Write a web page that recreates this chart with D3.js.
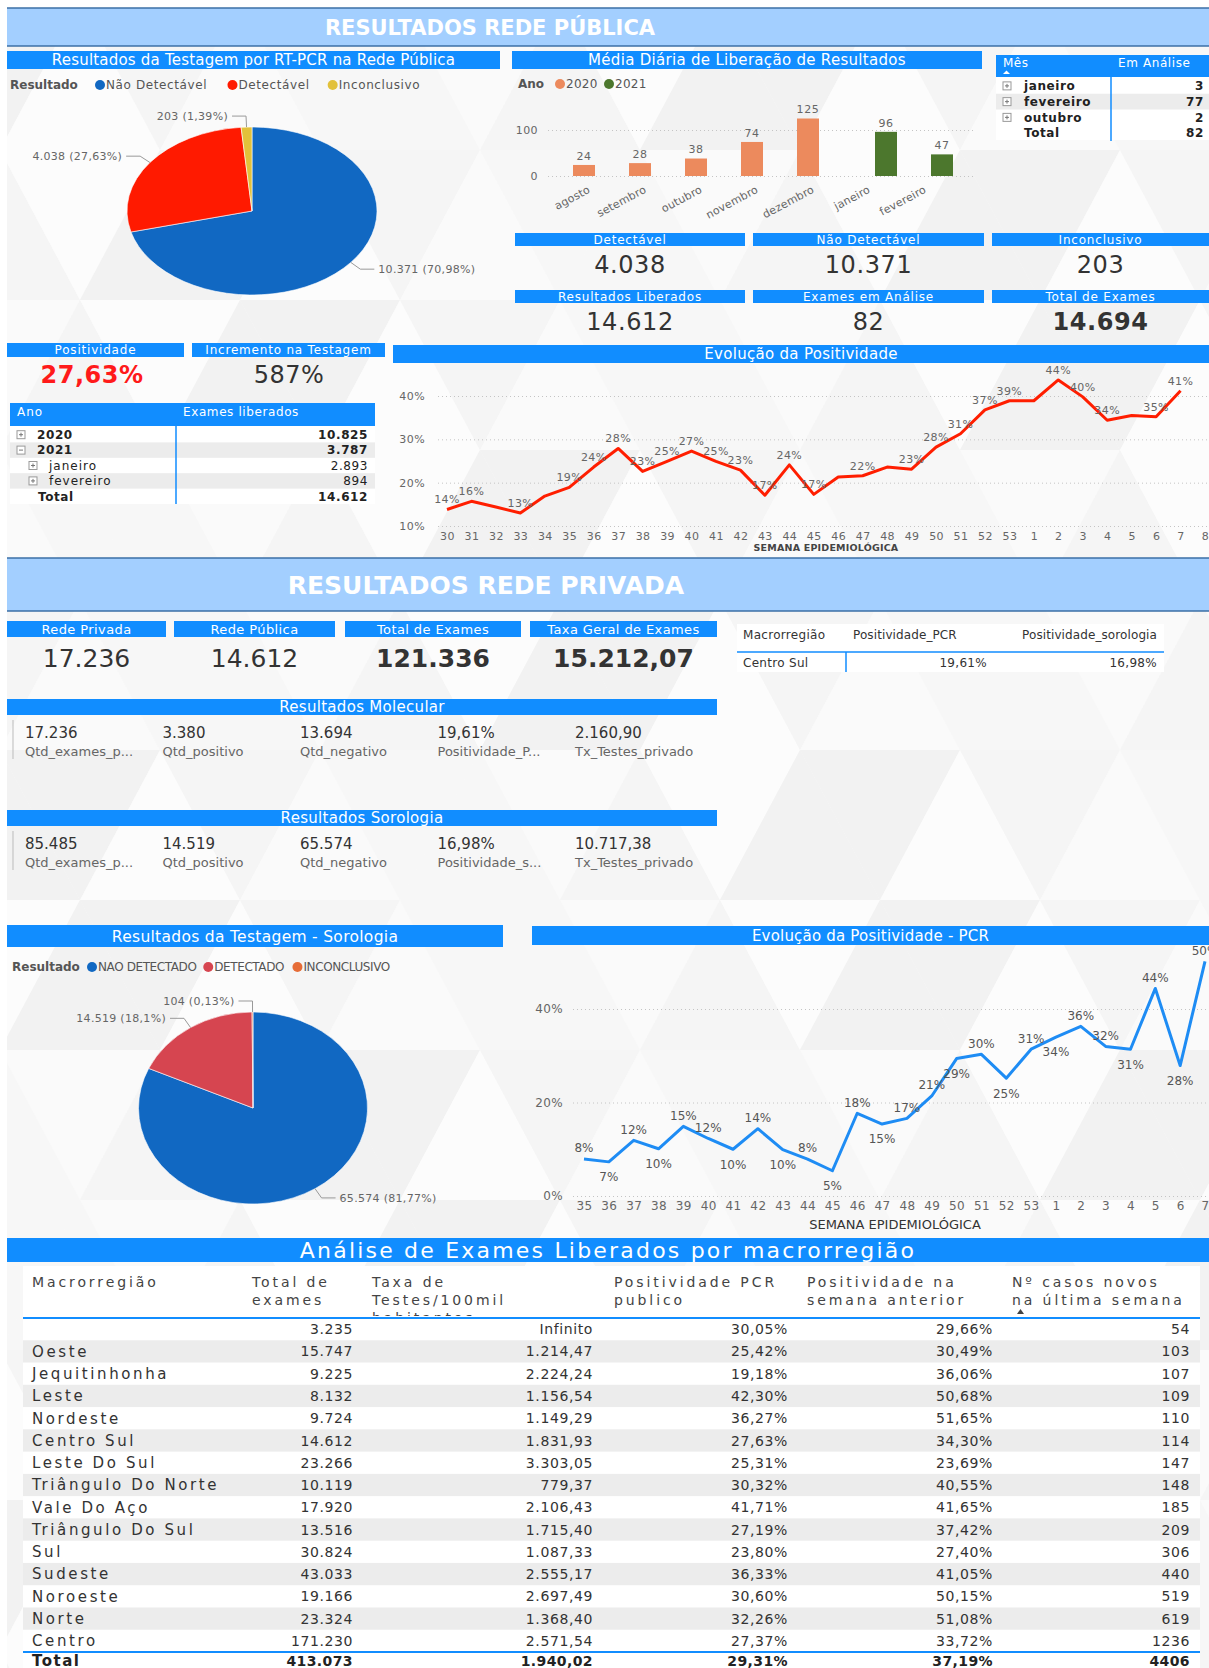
<!DOCTYPE html>
<html lang="pt-BR">
<head>
<meta charset="UTF-8" />
<title>Resultados Rede Pública e Privada</title>
<script src="https://d3js.org/d3.v7.min.js"></script>
<style>
  body { margin: 0; background: #fff; }
  svg { display: block; font-family: "DejaVu Sans", Verdana, sans-serif; }
</style>
</head>
<body>
<svg id="painel" width="1209" height="1668"></svg>
<script>
// ---------------- dados ----------------
const pcrResultados = ["Não Detectável", "Detectável", "Inconclusivo"];
const pcrQtd = [10371, 4038, 203];

const meses = ["agosto", "setembro", "outubro", "novembro", "dezembro", "janeiro", "fevereiro"];
const anoDoMes = ["2020", "2020", "2020", "2020", "2020", "2021", "2021"];
const anos = ["2020", "2021"];
const mediaDiaria = [24, 28, 38, 74, 125, 96, 47];

const analiseMeses = ["janeiro", "fevereiro", "outubro"];
const analiseQtd = [3, 77, 2];

const kpiPublicaRotulos = ["Detectável", "Não Detectável", "Inconclusivo",
  "Resultados Liberados", "Exames em Análise", "Total de Exames"];
const kpiPublicaValores = [4038, 10371, 203, 14612, 82, 14694];

const positividadeGeral = 27.63;
const incrementoTestagem = 587;

const liberadosAnos = ["2020", "2021"];
const liberadosAnoQtd = [10825, 3787];
const liberadosMeses2021 = ["janeiro", "fevereiro"];
const liberadosMesQtd = [2893, 894];

const semanas1 = ["30", "31", "32", "33", "34", "35", "36", "37", "38", "39", "40", "41",
  "42", "43", "44", "45", "46", "47", "48", "49", "50", "51", "52", "53",
  "1", "2", "3", "4", "5", "6", "7", "8"];
const positividade1 = [13.8, 15.7, 14.4, 13.0, 16.9, 18.9, 23.6, 27.9, 22.6, 24.9, 27.3, 24.9,
  22.9, 17.1, 24.1, 17.3, 21.3, 21.6, 23.6, 23.1, 28.2, 31.3, 36.8, 38.9,
  38.9, 43.7, 39.8, 34.4, 35.5, 35.2, 41.2];
const semanasSemRotulo1 = ["32", "34", "46", "48", "1", "5"];

const kpiPrivadaRotulos = ["Rede Privada", "Rede Pública", "Total de Exames", "Taxa Geral de Exames"];
const kpiPrivadaValores = [17236, 14612, 121336, 15212.07];

const posMacro = ["Centro Sul"];
const posMacroPCR = [19.61];
const posMacroSorologia = [16.98];

const molecularRotulos = ["Qtd_exames_p...", "Qtd_positivo", "Qtd_negativo", "Positividade_P...", "Tx_Testes_privado"];
const molecularValores = [17236, 3380, 13694, 19.61, 2160.90];
const sorologiaRotulos = ["Qtd_exames_p...", "Qtd_positivo", "Qtd_negativo", "Positividade_s...", "Tx_Testes_privado"];
const sorologiaValores = [85485, 14519, 65574, 16.98, 10717.38];

const soroResultados = ["NAO DETECTADO", "DETECTADO", "INCONCLUSIVO"];
const soroQtd = [65574, 14519, 104];

const semanas2 = ["35", "36", "37", "38", "39", "40", "41", "42", "43", "44", "45", "46", "47",
  "48", "49", "50", "51", "52", "53", "1", "2", "3", "4", "5", "6", "7"];
const positividadePCR = [7.9, 7.3, 11.9, 10.1, 14.9, 12.3, 10.0, 14.4, 9.9, 7.9, 5.4, 17.7, 15.4,
  16.6, 21.4, 29.4, 30.3, 25.2, 31.4, 34.0, 36.3, 32.0, 31.4, 44.4, 27.9, 50.2];
const semanasRotuloAbaixo2 = ["36", "38", "41", "43", "45", "47", "50", "52", "1", "4", "6"];

const macroNomes = ["", "Oeste", "Jequitinhonha", "Leste", "Nordeste", "Centro Sul", "Leste Do Sul",
  "Triângulo Do Norte", "Vale Do Aço", "Triângulo Do Sul", "Sul", "Sudeste", "Noroeste", "Norte", "Centro"];
const macroTotalExames = [3235, 15747, 9225, 8132, 9724, 14612, 23266, 10119, 17920, 13516, 30824, 43033, 19166, 23324, 171230];
const macroTaxa = [Infinity, 1214.47, 2224.24, 1156.54, 1149.29, 1831.93, 3303.05, 779.37, 2106.43, 1715.40, 1087.33, 2555.17, 2697.49, 1368.40, 2571.54];
const macroPositividade = [30.05, 25.42, 19.18, 42.30, 36.27, 27.63, 25.31, 30.32, 41.71, 27.19, 23.80, 36.33, 30.60, 32.26, 27.37];
const macroPosAnterior = [29.66, 30.49, 36.06, 50.68, 51.65, 34.30, 23.69, 40.55, 41.65, 37.42, 27.40, 41.05, 50.15, 51.08, 33.72];
const macroCasosNovos = [54, 103, 107, 109, 110, 114, 147, 148, 185, 209, 306, 440, 519, 619, 1236];
const macroTaxaTotal = 1940.02;
const macroPositividadeTotal = 29.31;
const macroPosAnteriorTotal = 37.19;

// ---------------- configuração ----------------
const W = 1209, H = 1668;
const AZUL = "#118dff";
const svg = d3.select("#painel");
const br = d3.formatLocale({ decimal: ",", thousands: ".", grouping: [3], currency: ["", ""] });
const fInt = br.format(",d");
const fDec = br.format(",.2f");
const fPct = v => fDec(v) + "%";
const fPctCurto = v => fDec(v).replace(/(,\d*?)0+$/, "$1").replace(/,$/, "") + "%";

function txt(parent, x, y, s, o = {}) {
  return parent.append("text")
    .attr("x", x).attr("y", y).attr("dy", o.dy || "0.36em")
    .attr("text-anchor", o.anchor || "start")
    .attr("font-size", o.size || 12)
    .attr("font-weight", o.weight || "normal")
    .attr("fill", o.fill || "#333")
    .style("letter-spacing", (o.ls || 0) + "px")
    .text(s);
}

function faixa(x, y, w, h, s, size, ls) {
  svg.append("rect").attr("x", x).attr("y", y).attr("width", w).attr("height", h).attr("fill", AZUL);
  txt(svg, x + w / 2, y + h / 2, s, { anchor: "middle", size: size, fill: "#fff", ls: ls || 0 });
}

// ---------------- fundo ----------------
const fundo = svg.append("g");
fundo.append("rect").attr("width", W).attr("height", H).attr("fill", "#f8f8f8");
const tons = ["#fcfcfc", "#f5f5f5", "#fafafa", "#f2f2f2", "#f7f7f7"];
for (let r = 0; r < 12; r++) {
  for (let c = -1; c < 10; c++) {
    const w = 160, h = 150, x = c * w + (r % 2) * w / 2, y = r * h;
    fundo.append("path").attr("d", `M${x},${y + h}L${x + w / 2},${y}L${x + w},${y + h}Z`)
      .attr("fill", tons[(r * 3 + c * 2 + 10) % 5]);
    fundo.append("path").attr("d", `M${x + w / 2},${y}L${x + w * 1.5},${y}L${x + w},${y + h}Z`)
      .attr("fill", tons[(r * 2 + c * 3 + 11) % 5]);
  }
}
fundo.append("rect").attr("width", W).attr("height", 8).attr("fill", "#fff");
fundo.append("rect").attr("width", 7).attr("height", H).attr("fill", "#fff");

function banner(y, h, s, size, cx) {
  svg.append("rect").attr("x", 7).attr("y", y).attr("width", W - 7).attr("height", h).attr("fill", "#a3cfff");
  svg.append("line").attr("x1", 7).attr("x2", W).attr("y1", y).attr("y2", y).attr("stroke", "#3b6fa6").attr("stroke-width", 1.5);
  svg.append("line").attr("x1", 7).attr("x2", W).attr("y1", y + h).attr("y2", y + h).attr("stroke", "#3b6fa6").attr("stroke-width", 1.5);
  txt(svg, cx, y + h / 2, s, { anchor: "middle", size: size, weight: "bold", fill: "#fff" });
}
banner(8, 38, "RESULTADOS REDE PÚBLICA", 21, 490);

// ---------------- pizza ----------------
function pizza(cfg) {
  const total = d3.sum(cfg.valores);
  const arcs = d3.pie().sort(null).value(d => d)(cfg.valores);
  const arco = d3.arc().innerRadius(0).outerRadius(cfg.ry);
  svg.append("g")
    .attr("transform", `translate(${cfg.cx},${cfg.cy}) scale(${cfg.rx / cfg.ry},1)`)
    .selectAll("path").data(arcs).join("path")
    .attr("d", arco).attr("fill", (d, i) => cfg.cores[i])
    .attr("stroke", "#fff").attr("stroke-width", 0.6).attr("vector-effect", "non-scaling-stroke");

  arcs.forEach((d, i) => {
    const a = (d.startAngle + d.endAngle) / 2;
    const sx = Math.sin(a), sy = -Math.cos(a);
    const p0 = [cfg.cx + cfg.rx * sx, cfg.cy + cfg.ry * sy];
    const p1 = [cfg.cx + (cfg.rx + 12) * sx, cfg.cy + (cfg.ry + 11) * sy];
    const dir = sx < 0 ? -1 : 1;
    const p2 = [p1[0] + dir * 14, p1[1]];
    svg.append("path").attr("d", `M${p0}L${p1}L${p2}`).attr("fill", "none")
      .attr("stroke", "#999").attr("stroke-width", 1);
    txt(svg, p2[0] + dir * 4, p2[1], `${fInt(d.data)} (${fPctCurto(d.data / total * 100)})`,
      { anchor: dir < 0 ? "end" : "start", size: 11, fill: "#666", ls: 0.3 });
  });

  // legenda
  txt(svg, cfg.legX, cfg.legY, "Resultado", { size: 12, weight: "bold", fill: "#555" });
  let lx = cfg.legX + cfg.legPrimeiro;
  cfg.nomes.forEach((n, i) => {
    svg.append("circle").attr("cx", lx + 5).attr("cy", cfg.legY).attr("r", 5).attr("fill", cfg.cores[i]);
    const t = txt(svg, lx + 11, cfg.legY, n, { size: 12, fill: "#555", ls: cfg.legLs });
    lx += 11 + t.node().getComputedTextLength() + 12 + cfg.legLs * n.length;
  });
}

faixa(7, 51, 493, 18, "Resultados da Testagem por RT-PCR na Rede Pública", 15, 0.2);
pizza({ cx: 252, cy: 211, rx: 125, ry: 84, valores: pcrQtd, nomes: pcrResultados,
  cores: ["#1168c2", "#ff1a00", "#e2c13a"], legX: 10, legY: 85, legPrimeiro: 85, legLs: 0.6 });

// ---------------- colunas média diária ----------------
faixa(512, 51, 470, 18, "Média Diária de Liberação de Resultados", 15, 0.3);
txt(svg, 518, 84, "Ano", { size: 12, weight: "bold", fill: "#555" });
[["2020", "#ec8a5d", 555], ["2021", "#4c772d", 604]].forEach(([a, c, x]) => {
  svg.append("circle").attr("cx", x + 5).attr("cy", 84).attr("r", 5).attr("fill", c);
  txt(svg, x + 11, 84, a, { size: 12, fill: "#555", ls: 0.3 });
});
const corAno = d3.scaleOrdinal().domain(anos).range(["#ec8a5d", "#4c772d"]);
const x0 = d3.scaleBand().domain(meses).range([567, 959]).paddingInner(12 / 56).paddingOuter(6 / 56);
const x1 = d3.scaleBand().domain(anos).range([0, x0.bandwidth()]);
const yBar = d3.scaleLinear().domain([0, 100]).range([176, 130]);

function estiloEixo(g, size, grade) {
  g.select(".domain").remove();
  g.selectAll(".tick line").attr("stroke", grade ? "#c4c4c4" : "none").attr("stroke-dasharray", "1,3");
  g.selectAll(".tick text").attr("fill", "#666").attr("font-size", size)
    .attr("font-family", "DejaVu Sans, Verdana, sans-serif").style("letter-spacing", "0.4px");
}
svg.append("g").attr("transform", "translate(548,0)")
  .call(d3.axisLeft(yBar).tickValues([0, 100]).tickSize(-(975 - 548)).tickPadding(10))
  .call(estiloEixo, 11, true);
svg.append("g").selectAll("rect").data(meses).join("rect")
  .attr("x", (m, i) => x0(m) + x1(anoDoMes[i]))
  .attr("y", (m, i) => yBar(mediaDiaria[i]))
  .attr("width", x1.bandwidth())
  .attr("height", (m, i) => yBar(0) - yBar(mediaDiaria[i]))
  .attr("fill", (m, i) => corAno(anoDoMes[i]));
meses.forEach((m, i) => {
  txt(svg, x0(m) + x1(anoDoMes[i]) + x1.bandwidth() / 2, yBar(mediaDiaria[i]) - 9, mediaDiaria[i],
    { anchor: "middle", size: 11, fill: "#666", ls: 0.6 });
  txt(svg, 0, 0, m, { anchor: "end", size: 11, fill: "#666", dy: "0", ls: 0.2 })
    .attr("transform", `translate(${x0(m) + x0.bandwidth() / 2 - 4},192) rotate(-28)`);
});

// ---------------- matriz em análise ----------------
svg.append("rect").attr("x", 996).attr("y", 55).attr("width", 213).attr("height", 22).attr("fill", AZUL);
txt(svg, 1003, 63, "Mês", { size: 12, fill: "#fff", ls: 0.5 });
svg.append("path").attr("d", "M1003,74L1006.5,70.5L1010,74Z").attr("fill", "#fff");
txt(svg, 1118, 63, "Em Análise", { size: 12, fill: "#fff", ls: 0.6 });
svg.append("rect").attr("x", 996).attr("y", 77).attr("width", 213).attr("height", 63).attr("fill", "#fff");
function iconeMais(x, y, menos) {
  svg.append("rect").attr("x", x).attr("y", y - 4).attr("width", 8).attr("height", 8)
    .attr("fill", "#fff").attr("stroke", "#999").attr("stroke-width", 1);
  svg.append("line").attr("x1", x + 2).attr("x2", x + 6).attr("y1", y).attr("y2", y).attr("stroke", "#777");
  if (!menos) svg.append("line").attr("x1", x + 4).attr("x2", x + 4).attr("y1", y - 2).attr("y2", y + 2).attr("stroke", "#777");
}
const linhaAn = d3.scaleBand().domain(d3.range(analiseMeses.length + 1)).range([78, 141]);
analiseMeses.concat(["Total"]).forEach((m, i) => {
  const cy = linhaAn(i) + linhaAn.bandwidth() / 2;
  if (i === 1) svg.append("rect").attr("x", 996).attr("y", linhaAn(i)).attr("width", 213).attr("height", linhaAn.bandwidth()).attr("fill", "#ececec");
  if (i < analiseMeses.length) iconeMais(1003, cy);
  txt(svg, 1024, cy, m, { size: 12, weight: "bold", fill: "#222", ls: 0.6 });
  const v = i < analiseMeses.length ? analiseQtd[i] : d3.sum(analiseQtd);
  txt(svg, 1204, cy, fInt(v), { size: 12, weight: "bold", fill: "#222", anchor: "end", ls: 0.6 });
});
svg.append("line").attr("x1", 1111).attr("x2", 1111).attr("y1", 77).attr("y2", 141).attr("stroke", AZUL).attr("stroke-width", 1.5);

// ---------------- cartões rede pública ----------------
const cartaoX = [[515, 230], [753, 231], [992, 217]];
kpiPublicaRotulos.forEach((r, i) => {
  const [x, w] = cartaoX[i % 3];
  const linha = Math.floor(i / 3);
  const hy = linha === 0 ? 233 : 290;
  faixa(x, hy, w, 13, r, 12, 0.8);
  txt(svg, x + w / 2, linha === 0 ? 264 : 321, fInt(kpiPublicaValores[i]),
    { anchor: "middle", size: 24, fill: "#333", weight: i === 5 ? "bold" : "normal", ls: 0.6 });
});

faixa(7, 343, 177, 14, "Positividade", 12, 0.8);
txt(svg, 92, 374, fPct(positividadeGeral), { anchor: "middle", size: 24, weight: "bold", fill: "#ff1a1a", ls: 0.5 });
faixa(192, 343, 193, 14, "Incremento na Testagem", 12, 0.8);
txt(svg, 289, 374, incrementoTestagem + "%", { anchor: "middle", size: 24, fill: "#333", ls: 0.5 });

// ---------------- matriz exames liberados ----------------
svg.append("rect").attr("x", 10).attr("y", 403).attr("width", 365).attr("height", 23).attr("fill", AZUL);
txt(svg, 17, 412, "Ano", { size: 12, fill: "#fff", ls: 1 });
txt(svg, 183, 412, "Exames liberados", { size: 12, fill: "#fff", ls: 0.6 });
svg.append("rect").attr("x", 10).attr("y", 426).attr("width", 365).attr("height", 78).attr("fill", "#fff");
const linhaLib = d3.scaleBand().domain(d3.range(5)).range([427, 504]);
const linhasLib = [
  { r: liberadosAnos[0], v: liberadosAnoQtd[0], nivel: 0, b: true },
  { r: liberadosAnos[1], v: liberadosAnoQtd[1], nivel: 0, b: true, aberto: true },
  { r: liberadosMeses2021[0], v: liberadosMesQtd[0], nivel: 1 },
  { r: liberadosMeses2021[1], v: liberadosMesQtd[1], nivel: 1 },
  { r: "Total", v: d3.sum(liberadosAnoQtd), nivel: 2, b: true }
];
linhasLib.forEach((l, i) => {
  const cy = linhaLib(i) + linhaLib.bandwidth() / 2;
  if (i % 2 === 1) svg.append("rect").attr("x", 10).attr("y", linhaLib(i)).attr("width", 365).attr("height", linhaLib.bandwidth()).attr("fill", "#ececec");
  if (l.nivel === 0) iconeMais(17, cy, l.aberto);
  if (l.nivel === 1) iconeMais(29, cy);
  const tx = l.nivel === 0 ? 37 : (l.nivel === 1 ? 49 : 38);
  txt(svg, tx, cy, l.r, { size: 12, weight: l.b ? "bold" : "normal", fill: "#222", ls: l.b ? 0.6 : 1 });
  txt(svg, 368, cy, fInt(l.v), { size: 12, weight: l.b ? "bold" : "normal", fill: "#222", anchor: "end", ls: 0.6 });
});
svg.append("line").attr("x1", 176).attr("x2", 176).attr("y1", 426).attr("y2", 504).attr("stroke", AZUL).attr("stroke-width", 1.5);

// ---------------- evolução positividade (pública) ----------------
faixa(393, 345, W - 393, 18, "Evolução da Positividade", 15, 0.3);
const xS1 = d3.scalePoint().domain(semanas1).range([447, 1205]);
const yS1 = d3.scaleLinear().domain([10, 40]).range([526, 396]);
svg.append("g").attr("transform", "translate(438,0)")
  .call(d3.axisLeft(yS1).tickValues([10, 20, 30, 40]).tickSize(-(W - 438)).tickPadding(13).tickFormat(d => d + "%"))
  .call(estiloEixo, 11, true);
svg.append("g").attr("transform", "translate(0,526)")
  .call(d3.axisBottom(xS1).tickSize(0).tickPadding(6))
  .call(estiloEixo, 11, false);
const linha1 = d3.line().x((d, i) => xS1(semanas1[i])).y(d => yS1(d));
svg.append("path").datum(positividade1).attr("d", linha1).attr("fill", "none")
  .attr("stroke", "#ff1e00").attr("stroke-width", 3).attr("stroke-linejoin", "round");
positividade1.forEach((v, i) => {
  if (semanasSemRotulo1.includes(semanas1[i])) return;
  txt(svg, xS1(semanas1[i]), yS1(v) - 10, Math.round(v) + "%", { anchor: "middle", size: 11, fill: "#666", ls: 0.4 });
});
txt(svg, 826, 548, "SEMANA EPIDEMIOLÓGICA", { anchor: "middle", size: 9.5, weight: "bold", fill: "#444", ls: 0.2 });

// ---------------- rede privada ----------------
banner(558, 53, "RESULTADOS REDE PRIVADA", 25, 486);

const cartaoPriv = [[7, 159], [174, 161], [345, 176], [530, 187]];
kpiPrivadaRotulos.forEach((r, i) => {
  const [x, w] = cartaoPriv[i];
  faixa(x, 621, w, 16, r, 13, 0.4);
  const v = kpiPrivadaValores[i];
  txt(svg, x + w / 2, 658, Number.isInteger(v) ? fInt(v) : fDec(v),
    { anchor: "middle", size: 25, fill: "#333", weight: i >= 2 ? "bold" : "normal" });
});

// tabela positividade por macrorregião
svg.append("rect").attr("x", 737).attr("y", 624).attr("width", 427).attr("height", 48).attr("fill", "#fff");
txt(svg, 743, 635, "Macrorregião", { size: 12, fill: "#333", ls: 0.3 });
txt(svg, 853, 635, "Positividade_PCR", { size: 12, fill: "#333", ls: 0.1 });
txt(svg, 1157, 635, "Positividade_sorologia", { size: 12, fill: "#333", anchor: "end", ls: 0.1 });
svg.append("line").attr("x1", 737).attr("x2", 1164).attr("y1", 652).attr("y2", 652).attr("stroke", AZUL).attr("stroke-width", 1.5);
posMacro.forEach((m, i) => {
  const cy = 663 + i * 18;
  txt(svg, 743, cy, m, { size: 12, fill: "#333", ls: 0.3 });
  txt(svg, 987, cy, fPct(posMacroPCR[i]), { size: 12, fill: "#333", anchor: "end", ls: 0.3 });
  txt(svg, 1157, cy, fPct(posMacroSorologia[i]), { size: 12, fill: "#333", anchor: "end", ls: 0.3 });
});
svg.append("line").attr("x1", 846).attr("x2", 846).attr("y1", 652).attr("y2", 672).attr("stroke", AZUL).attr("stroke-width", 1.5);

function multiLinha(y, titulo, rotulos, valores) {
  faixa(7, y, 710, 16, titulo, 15, 0.3);
  svg.append("line").attr("x1", 13).attr("x2", 13).attr("y1", y + 21).attr("y2", y + 60).attr("stroke", "#bbb");
  const xc = d3.scalePoint().domain(d3.range(rotulos.length)).range([25, 575]);
  valores.forEach((v, i) => {
    const s = i === 3 ? fPct(v) : (Number.isInteger(v) ? fInt(v) : fDec(v));
    txt(svg, xc(i), y + 34, s, { size: 15, fill: "#333" });
    txt(svg, xc(i), y + 52, rotulos[i], { size: 13, fill: "#666" });
  });
}
multiLinha(699, "Resultados Molecular", molecularRotulos, molecularValores);
multiLinha(810, "Resultados Sorologia", sorologiaRotulos, sorologiaValores);

// ---------------- pizza sorologia ----------------
faixa(7, 925, 496, 22, "Resultados da Testagem - Sorologia", 15.5, 0.3);
pizza({ cx: 253, cy: 1108, rx: 114.5, ry: 96, valores: soroQtd, nomes: soroResultados,
  cores: ["#1168c2", "#d64550", "#e66c37"], legX: 12, legY: 967, legPrimeiro: 75, legLs: -0.4 });

// ---------------- evolução positividade PCR ----------------
faixa(532, 926, W - 532, 19, "Evolução da Positividade - PCR", 15, 0.2);
const xS2 = d3.scalePoint().domain(semanas2).range([584, 1205]);
const yS2 = d3.scaleLinear().domain([0, 40]).range([1196, 1009]);
svg.append("g").attr("transform", "translate(573,0)")
  .call(d3.axisLeft(yS2).tickValues([0, 20, 40]).tickSize(-(W - 573)).tickPadding(10).tickFormat(d => d + "%"))
  .call(estiloEixo, 12, true);
svg.append("g").attr("transform", "translate(0,1196)")
  .call(d3.axisBottom(xS2).tickSize(0).tickPadding(5))
  .call(estiloEixo, 12, false);
const linha2 = d3.line().x((d, i) => xS2(semanas2[i])).y(d => yS2(d));
svg.append("path").datum(positividadePCR).attr("d", linha2).attr("fill", "none")
  .attr("stroke", "#1e8cf4").attr("stroke-width", 3).attr("stroke-linejoin", "round");
positividadePCR.forEach((v, i) => {
  const abaixo = semanasRotuloAbaixo2.includes(semanas2[i]);
  txt(svg, xS2(semanas2[i]), yS2(v) + (abaixo ? 15 : -11), Math.round(v) + "%",
    { anchor: "middle", size: 12, fill: "#555" });
});
txt(svg, 895, 1224, "SEMANA EPIDEMIOLÓGICA", { anchor: "middle", size: 13, fill: "#333" });

// ---------------- tabela macrorregiões ----------------
faixa(7, 1238, W - 7, 24, "Análise de Exames Liberados por macrorregião", 22, 2.2);
svg.append("rect").attr("x", 23).attr("y", 1266).attr("width", 1177).attr("height", H - 1266).attr("fill", "#fff");
svg.append("clipPath").attr("id", "cabec").append("rect").attr("x", 0).attr("y", 1266).attr("width", W).attr("height", 50);
const cab = svg.append("g").attr("clip-path", "url(#cabec)");
const cabecalhos = [
  [32, ["Macrorregião"]],
  [252, ["Total de", "exames"]],
  [372, ["Taxa de", "Testes/100mil", "habitantes"]],
  [614, ["Positividade PCR", "publico"]],
  [807, ["Positividade na", "semana anterior"]],
  [1012, ["Nº casos novos", "na última semana"]]
];
cabecalhos.forEach(([x, ls]) => ls.forEach((l, j) => txt(cab, x, 1282 + j * 18, l, { size: 14, fill: "#444", ls: 2.9 })));
svg.append("path").attr("d", "M1017,1314L1020.5,1309L1024,1314Z").attr("fill", "#444");
svg.append("line").attr("x1", 23).attr("x2", 1200).attr("y1", 1318).attr("y2", 1318).attr("stroke", AZUL).attr("stroke-width", 2);

const linhaMacro = d3.scaleBand().domain(d3.range(macroNomes.length)).range([1318, 1652]);
const colDir = [353, 593, 788, 993, 1190];
macroNomes.forEach((n, i) => {
  const y = linhaMacro(i), cy = y + linhaMacro.bandwidth() / 2;
  if (i % 2 === 1) svg.append("rect").attr("x", 23).attr("y", y).attr("width", 1177).attr("height", linhaMacro.bandwidth()).attr("fill", "#ececec");
  txt(svg, 32, cy, n, { size: 15, fill: "#333", ls: 2.6 });
  const vals = [fInt(macroTotalExames[i]),
    isFinite(macroTaxa[i]) ? fDec(macroTaxa[i]) : "Infinito",
    fPct(macroPositividade[i]), fPct(macroPosAnterior[i]), String(macroCasosNovos[i])];
  vals.forEach((s, k) => txt(svg, colDir[k], cy, s, { size: 14, fill: "#333", anchor: "end", ls: 0.6 }));
});
svg.append("line").attr("x1", 23).attr("x2", 1200).attr("y1", 1652).attr("y2", 1652).attr("stroke", AZUL).attr("stroke-width", 2);
txt(svg, 32, 1661, "Total", { size: 15, weight: "bold", fill: "#222", ls: 1.5 });
[fInt(d3.sum(macroTotalExames)), fDec(macroTaxaTotal), fPct(macroPositividadeTotal),
  fPct(macroPosAnteriorTotal), String(d3.sum(macroCasosNovos))]
  .forEach((s, k) => txt(svg, colDir[k], 1661, s, { size: 14, weight: "bold", fill: "#222", anchor: "end", ls: 0.4 }));
</script>
</body>
</html>
